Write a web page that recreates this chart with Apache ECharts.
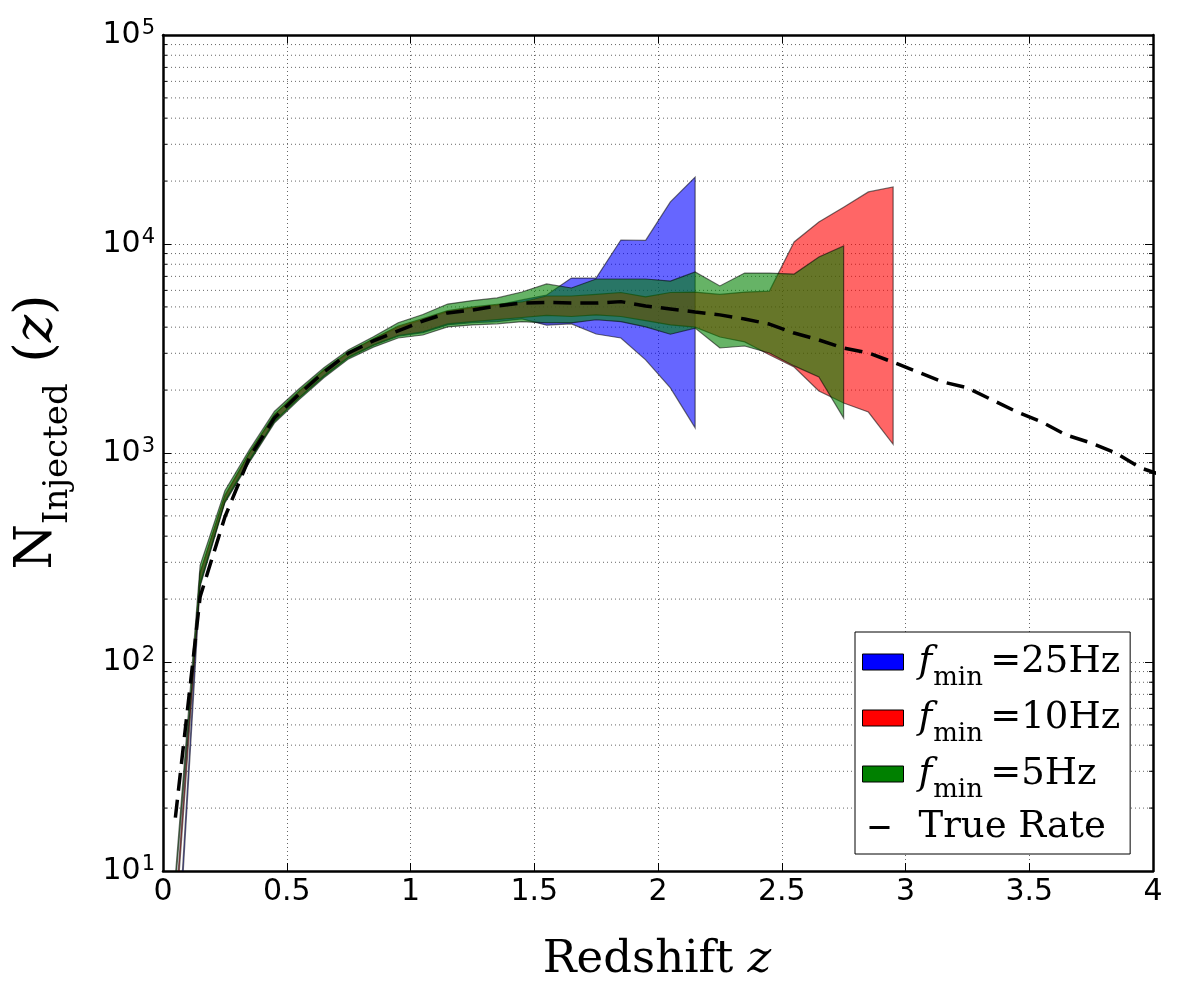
<!DOCTYPE html>
<html>
<head>
<meta charset="utf-8">
<script src="https://cdn.jsdelivr.net/npm/echarts@6/dist/echarts.min.js"></script>
<style>html,body{margin:0;padding:0;background:#fff}#c{width:1200px;height:1000px}</style>
</head>
<body>
<div id="c"></div>
<script>
// ---- data ----
const zBins = [0.05,0.15,0.25,0.35,0.45,0.55,0.65,0.75,0.85,0.95,1.05,1.15,1.25,1.35,1.45,1.55,1.65,1.75,1.85,1.95,
               2.05,2.15,2.25,2.35,2.45,2.55,2.65,2.75,2.85,2.95,3.05,3.15,3.25,3.35,3.45,3.55,3.65,3.75,3.85,3.95,4.05];

const trueRate = [18,205,494,957,1470,1914,2440,3010,3440,3840,4280,4680,4830,5050,5220,5250,5225,5220,5300,5050,
                  4890,4730,4580,4380,4140,3750,3475,3180,3010,2720,2440,2190,2050,1795,1572,1408,1219,1117,1000,848,775];

// f_min = 25 Hz (blue), bins 0.05 .. 2.15
const blueLower = [2.3,235,585,920,1410,1830,2320,2860,3270,3620,3760,4100,4200,4250,4380,4090,4150,3710,3550,2790,2050,1320];
const blueUpper = [2.7,265,620,1000,1520,1960,2480,3020,3500,4000,4350,4750,4950,5100,5400,5700,6870,6870,10450,10400,15900,20900];

// f_min = 10 Hz (red), bins 0.05 .. 2.95
const redLower = [5.5,240,590,930,1420,1840,2340,2880,3290,3650,3800,4150,4250,4350,4450,4550,4500,4580,4500,4300,
                  4100,4000,3590,3400,2950,2580,1980,1735,1570,1100];
const redUpper = [6.5,270,630,1010,1530,1980,2500,3050,3520,4050,4400,4800,5000,5150,5280,5640,5640,5740,5860,5590,
                  5860,5890,5740,5890,5950,10230,12740,15000,17750,18750];

// f_min = 5 Hz (green), bins 0.05 .. 2.75
const greenLower = [8.5,230,577,906,1390,1800,2290,2820,3210,3550,3670,4010,4100,4150,4250,4190,4190,4340,4250,4010,
                    3700,3960,3180,3250,3010,2610,2310,1470];
const greenUpper = [9.5,290,660,1040,1580,2030,2560,3120,3600,4200,4600,5160,5360,5520,5890,6440,6160,6800,6800,6800,
                    6650,7350,6300,7260,7260,7180,8670,9780];

const xTicks = [0,0.5,1,1.5,2,2.5,3,3.5,4];
const yMinorTicks = [20,30,40,50,60,70,80,90,200,300,400,500,600,700,800,900,
                     2000,3000,4000,5000,6000,7000,8000,9000,20000,30000,40000,50000,60000,70000,80000,90000];

const bandNames = {f25:'25', f10:'10', f5:'5'};

// ---- chart ----
const chart = echarts.init(document.getElementById('c'), null, {renderer:'canvas'});

function makeBand(name, lo, hi, fill, solid) {
  const rows = lo.map((v, i) => [zBins[i], v, hi[i]]);
  return {
    type: 'custom', name: name, coordinateSystem: 'cartesian2d', clip: true, silent: true, z: 3,
    itemStyle: {color: solid},
    encode: {x: 0, y: [1, 2]},
    data: rows,
    renderItem: function (params, api) {
      if (params.dataIndex !== 0) return null;
      const top = rows.map(r => api.coord([r[0], r[2]]));
      const bot = rows.map(r => api.coord([r[0], r[1]])).reverse();
      return {
        type: 'polygon',
        shape: {points: top.concat(bot)},
        style: {fill: fill, stroke: 'rgba(0,0,0,0.55)', lineWidth: 1.2, lineJoin: 'miter'}
      };
    }
  };
}

const gridColor = '#666';
const gridDash = [1, 3];
const serif = 'DejaVu Serif';
const sans = 'DejaVu Sans';

const option = {
  animation: false,
  backgroundColor: '#fff',
  grid: {left: 163, right: 47, top: 35, bottom: 129, containLabel: false},
  xAxis: [{
    type: 'value', min: 0, max: 4, interval: 0.5, position: 'bottom',
    axisLine: {show: true, onZero: false, lineStyle: {color: '#000', width: 2.5}},
    axisTick: {show: true, inside: true, length: 8, lineStyle: {color: '#000', width: 1}},
    axisLabel: {color: '#000', fontSize: 30, fontFamily: sans, margin: 6,
                formatter: v => xTicks.indexOf(v) >= 0 ? String(v) : ''},
    splitLine: {show: true, lineStyle: {color: gridColor, width: 1, type: gridDash}}
  }, {
    type: 'value', min: 0, max: 4, interval: 0.5, position: 'top',
    axisLine: {show: true, onZero: false, lineStyle: {color: '#000', width: 2.5}},
    axisTick: {show: true, inside: true, length: 8, lineStyle: {color: '#000', width: 1}},
    axisLabel: {show: false}, splitLine: {show: false}
  }],
  yAxis: [{
    type: 'log', logBase: 10, min: 10, max: 100000, position: 'left',
    axisLine: {show: true, onZero: false, lineStyle: {color: '#000', width: 2.5}},
    axisTick: {show: true, inside: true, length: 8, lineStyle: {color: '#000', width: 1}},
    axisLabel: {
      color: '#000', margin: 8,
      formatter: function (v) {
        const e = Math.round(Math.log10(v));
        return '{b|10}{s|' + e + '}';
      },
      rich: {
        b: {fontSize: 30, fontFamily: sans, lineHeight: 34, verticalAlign: 'middle', color: '#000'},
        s: {fontSize: 21, fontFamily: sans, lineHeight: 20, padding: [0, 0, 26, 1], verticalAlign: 'top', color: '#000'}
      }
    },
    splitLine: {show: true, lineStyle: {color: gridColor, width: 1, type: gridDash}}
  }, {
    type: 'log', logBase: 10, min: 10, max: 100000, position: 'right',
    axisLine: {show: true, onZero: false, lineStyle: {color: '#000', width: 2.5}},
    axisTick: {show: true, inside: true, length: 8, lineStyle: {color: '#000', width: 1}},
    axisLabel: {show: false}, splitLine: {show: false}
  }],
  legend: {
    show: true, orient: 'vertical', left: 855, top: 632,
    backgroundColor: '#fff', borderColor: '#000', borderWidth: 1, borderRadius: 0,
    padding: [9, 10, 8, 7], itemGap: 6, itemWidth: 41, itemHeight: 16,
    selectedMode: false,
    data: [
      {name: 'f25', icon: 'rect', itemStyle: {color: '#0000ff', borderColor: '#000', borderWidth: 1, opacity: 1}},
      {name: 'f10', icon: 'rect', itemStyle: {color: '#ff0000', borderColor: '#000', borderWidth: 1, opacity: 1}},
      {name: 'f5', icon: 'rect', itemStyle: {color: '#008000', borderColor: '#000', borderWidth: 1, opacity: 1}},
      {name: 'True Rate', icon: 'path://M0,0M41,16M7,6.5H27V9.5H7Z',
       itemStyle: {color: '#000', borderWidth: 0, opacity: 1}, lineStyle: {width: 0, opacity: 0}}
    ],
    formatter: function (name) {
      if (name === 'True Rate') return '{t|True Rate}';
      return '{f|f}{s|min}{n|\u2009=' + bandNames[name] + 'Hz}';
    },
    textStyle: {
      color: '#000', padding: [0, 0, 0, 10],
      rich: {
        f: {fontSize: 37, fontFamily: serif, fontStyle: 'italic', lineHeight: 42, verticalAlign: 'middle', color: '#000'},
        s: {fontSize: 26, fontFamily: serif, lineHeight: 28, padding: [24, 0, 0, 1], verticalAlign: 'top', color: '#000'},
        n: {fontSize: 37, fontFamily: serif, lineHeight: 42, verticalAlign: 'middle', color: '#000'},
        t: {fontSize: 37, fontFamily: serif, lineHeight: 42, verticalAlign: 'middle', color: '#000'}
      }
    }
  },
  graphic: [
    {
      type: 'text', x: 657, y: 960, silent: true,
      style: {
        text: '{r|Redshift }{z|z}', align: 'center', verticalAlign: 'middle',
        rich: {
          r: {fontSize: 45, fontFamily: serif, fill: '#000'},
          z: {fontSize: 45, fontFamily: serif, fontStyle: 'italic', fill: '#000'}
        }
      }
    },
    {
      type: 'text', x: 37, y: 432, rotation: Math.PI / 2, silent: true,
      style: {
        text: '{n|N}{s|Injected}{n|\u2009\u2009(}{z|z}{n|)}', align: 'center', verticalAlign: 'middle',
        rich: {
          n: {fontSize: 52, fontFamily: serif, lineHeight: 60, verticalAlign: 'middle', fill: '#000'},
          z: {fontSize: 52, fontFamily: serif, fontStyle: 'italic', lineHeight: 60, verticalAlign: 'middle', fill: '#000'},
          s: {fontSize: 34, fontFamily: serif, lineHeight: 38, padding: [34, 0, 0, 0], verticalAlign: 'top', fill: '#000'}
        }
      }
    }
  ],
  series: [
    {
      type: 'custom', name: 'minorGrid', coordinateSystem: 'cartesian2d', silent: true, z: 1, clip: false,
      encode: {x: 0, y: 1},
      data: yMinorTicks.map(v => [0, v]),
      renderItem: function (params, api) {
        const cs = params.coordSys;
        const y = api.coord([0, api.value(1)])[1];
        return {
          type: 'group',
          children: [
            {type: 'line', shape: {x1: cs.x, y1: y, x2: cs.x + cs.width, y2: y},
             style: {stroke: gridColor, lineWidth: 1, lineDash: gridDash}},
            {type: 'line', shape: {x1: cs.x, y1: y, x2: cs.x + 4, y2: y},
             style: {stroke: '#000', lineWidth: 1}},
            {type: 'line', shape: {x1: cs.x + cs.width - 4, y1: y, x2: cs.x + cs.width, y2: y},
             style: {stroke: '#000', lineWidth: 1}}
          ]
        };
      }
    },
    makeBand('f25', blueLower, blueUpper, 'rgba(0,0,255,0.6)', '#0000ff'),
    makeBand('f10', redLower, redUpper, 'rgba(255,0,0,0.6)', '#ff0000'),
    makeBand('f5', greenLower, greenUpper, 'rgba(0,128,0,0.6)', '#008000'),
    {
      type: 'line', name: 'True Rate', z: 5, clip: true, silent: true,
      data: zBins.map((x, i) => [x, trueRate[i]]),
      showSymbol: false, symbol: 'none',
      itemStyle: {color: '#000'},
      lineStyle: {color: '#000', width: 3.5, type: [18, 9]}
    }
  ]
};
chart.setOption(option);
</script>
</body>
</html>
